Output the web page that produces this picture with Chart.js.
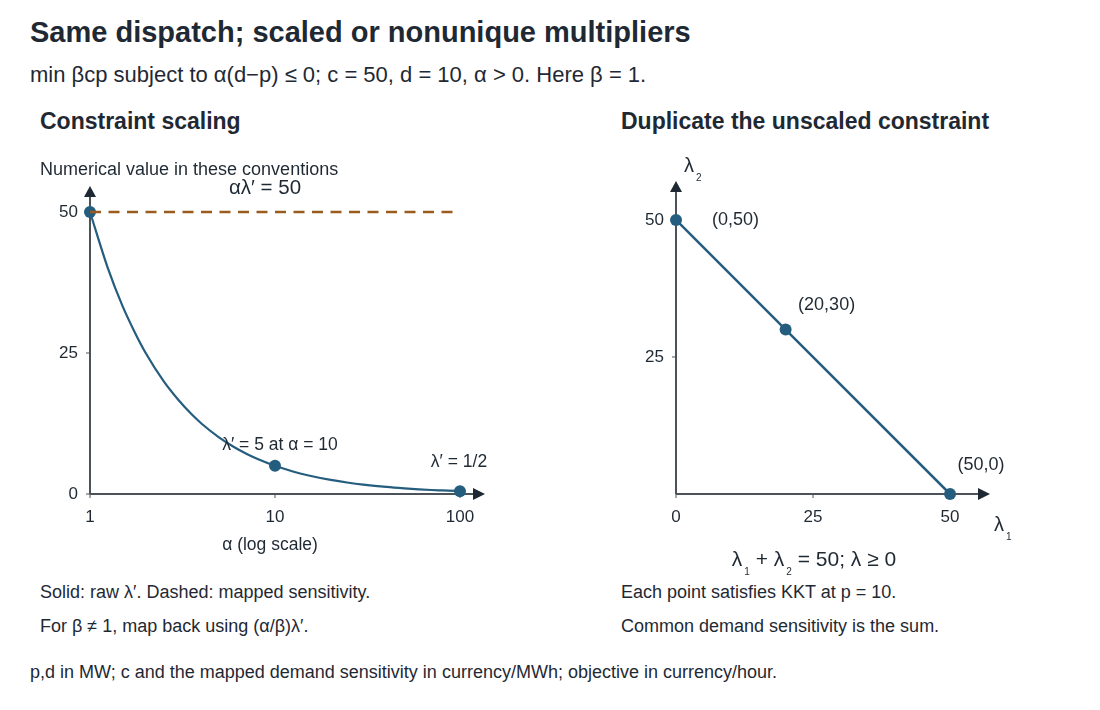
<!DOCTYPE html>
<html lang="en">
    <head>
        <meta charset="UTF-8" />
        <title>Same dispatch; scaled or nonunique multipliers</title>
        <script src="https://cdn.jsdelivr.net/npm/chart.js@4"></script>
        <style>
            body { margin: 0; background: #fff; font-family: "Liberation Sans", Arial, sans-serif; color: #1f2933; }
            #page { position: relative; width: 1100px; height: 710px; overflow: hidden; }
            .txt { position: absolute; white-space: nowrap; line-height: 1; }
            canvas { position: absolute; top: 0; }
        </style>
    </head>
    <body>
        <div id="page">
            <div class="txt" style="left:30px; top:18px; font-size:29px; font-weight:bold;">Same dispatch; scaled or nonunique multipliers</div>
            <div class="txt" style="left:30px; top:64px; font-size:22px;">min βcp subject to α(d−p) ≤ 0; c = 50, d = 10, α &gt; 0. Here β = 1.</div>
            <div class="txt" style="left:40px; top:109.5px; font-size:23px; font-weight:bold;">Constraint scaling</div>
            <div class="txt" style="left:621px; top:109.5px; font-size:23px; font-weight:bold;">Duplicate the unscaled constraint</div>
            <div class="txt" style="left:40px; top:583px; font-size:18px;">Solid: raw λ′. Dashed: mapped sensitivity.</div>
            <div class="txt" style="left:40px; top:617px; font-size:18px;">For β ≠ 1, map back using (α/β)λ′.</div>
            <div class="txt" style="left:621px; top:583px; font-size:18px;">Each point satisfies KKT at p = 10.</div>
            <div class="txt" style="left:621px; top:617px; font-size:18px;">Common demand sensitivity is the sum.</div>
            <div class="txt" style="left:30px; top:663px; font-size:18px;">p,d in MW; c and the mapped demand sensitivity in currency/MWh; objective in currency/hour.</div>
            <canvas id="leftChart" width="560" height="710" style="left:0;"></canvas>
            <canvas id="rightChart" width="540" height="710" style="left:560px;"></canvas>
        </div>

        <script>
            // left panel: raw multiplier lambda' = c/alpha
            const alphaValues = [1, 1.25, 1.5, 1.75, 2, 2.5, 3, 3.5, 4, 5, 6, 7, 8, 10, 12.5, 15, 20, 25, 30, 40, 50, 60, 70, 80, 100];
            const rawLambda = [50, 40, 33.3, 28.6, 25, 20, 16.7, 14.3, 12.5, 10, 8.33, 7.14, 6.25, 5, 4, 3.33, 2.5, 2, 1.67, 1.25, 1, 0.83, 0.71, 0.63, 0.5];
            const markedAlpha = [1, 10, 100];
            const markedLambda = [50, 5, 0.5];
            const mappedAlpha = [1, 100];
            const mappedValue = [50, 50];
            const leftXTicks = [1, 10, 100];
            const leftYTicks = [0, 25, 50];

            // right panel: two copies of the same constraint
            const lambda1 = [0, 20, 50];
            const lambda2 = [50, 30, 0];
            const pointLabels = ["(0,50)", "(20,30)", "(50,0)"];
            const rightXTicks = [0, 25, 50];
            const rightYTicks = [25, 50];

            const ink = "#1f2933";
            const axisGray = "#4b5259";
            const blue = "#255d7f";
            const brown = "#9a5b1f";
            const font = '"Liberation Sans", Arial, sans-serif';

            function xy(xs, ys) {
                return xs.map((x, i) => ({ x: x, y: ys[i] }));
            }

            function drawAxes(chart, xTicks, yTicks) {
                const ctx = chart.ctx;
                const a = chart.chartArea;
                const xs = chart.scales.x;
                const ys = chart.scales.y;
                ctx.save();
                ctx.strokeStyle = axisGray;
                ctx.lineWidth = 2;
                ctx.beginPath();
                ctx.moveTo(a.left, a.bottom);
                ctx.lineTo(a.right, a.bottom);
                ctx.moveTo(a.left, a.bottom);
                ctx.lineTo(a.left, a.top);
                ctx.stroke();
                // arrow heads
                ctx.fillStyle = ink;
                ctx.beginPath();
                ctx.moveTo(a.right + 12, a.bottom);
                ctx.lineTo(a.right, a.bottom - 6);
                ctx.lineTo(a.right, a.bottom + 6);
                ctx.closePath();
                ctx.fill();
                ctx.beginPath();
                ctx.moveTo(a.left, a.top - 11);
                ctx.lineTo(a.left - 6, a.top);
                ctx.lineTo(a.left + 6, a.top);
                ctx.closePath();
                ctx.fill();
                // ticks and labels
                ctx.lineWidth = 1;
                ctx.font = "17px " + font;
                ctx.fillStyle = ink;
                ctx.textBaseline = "middle";
                ctx.textAlign = "center";
                xTicks.forEach((v) => {
                    const px = xs.getPixelForValue(v);
                    ctx.beginPath();
                    ctx.moveTo(px, a.bottom);
                    ctx.lineTo(px, a.bottom + 4);
                    ctx.stroke();
                    ctx.fillText(String(v), px, a.bottom + 23);
                });
                ctx.textAlign = "right";
                yTicks.forEach((v) => {
                    const py = ys.getPixelForValue(v);
                    ctx.beginPath();
                    ctx.moveTo(a.left, py);
                    ctx.lineTo(a.left - 4, py);
                    ctx.stroke();
                    ctx.fillText(String(v), a.left - 12, py);
                });
                ctx.restore();
            }

            function subLambda(ctx, x, y, sub, size) {
                // lambda with a small subscript, x = left edge, y = baseline
                ctx.font = size + "px " + font;
                ctx.textAlign = "left";
                ctx.fillText("λ", x, y);
                const w = ctx.measureText("λ").width;
                ctx.font = Math.round(size * 0.5) + "px " + font;
                ctx.fillText(sub, x + w + 2, y + 9);
            }

            const leftPlugin = {
                id: "leftDecor",
                beforeDatasetsDraw(chart) {
                    drawAxes(chart, leftXTicks, leftYTicks);
                },
                afterDatasetsDraw(chart) {
                    const ctx = chart.ctx;
                    const xs = chart.scales.x;
                    const ys = chart.scales.y;
                    ctx.save();
                    ctx.fillStyle = ink;
                    ctx.textBaseline = "alphabetic";
                    ctx.font = "18px " + font;
                    ctx.textAlign = "left";
                    ctx.fillText("Numerical value in these conventions", 40, 175);
                    ctx.font = "20.5px " + font;
                    ctx.textAlign = "center";
                    ctx.fillText("αλ′ = 50", 265, 194);
                    ctx.font = "17.5px " + font;
                    ctx.fillText("α (log scale)", 270, 550);
                    ctx.fillText("λ′ = 5 at α = 10", xs.getPixelForValue(markedAlpha[1]) + 5, ys.getPixelForValue(markedLambda[1]) - 16);
                    ctx.fillText("λ′ = 1/2", xs.getPixelForValue(markedAlpha[2]) - 1, ys.getPixelForValue(markedLambda[2]) - 24);
                    ctx.restore();
                },
            };

            const rightPlugin = {
                id: "rightDecor",
                beforeDatasetsDraw(chart) {
                    drawAxes(chart, rightXTicks, rightYTicks);
                },
                afterDatasetsDraw(chart) {
                    const ctx = chart.ctx;
                    const xs = chart.scales.x;
                    const ys = chart.scales.y;
                    ctx.save();
                    ctx.fillStyle = ink;
                    ctx.textBaseline = "alphabetic";
                    ctx.font = "18px " + font;
                    const offsets = [[36, 5, "left"], [41, -20, "center"], [31, -24, "center"]];
                    pointLabels.forEach((t, i) => {
                        const o = offsets[i];
                        ctx.textAlign = o[2];
                        ctx.fillText(t, xs.getPixelForValue(lambda1[i]) + o[0], ys.getPixelForValue(lambda2[i]) + o[1]);
                    });
                    subLambda(ctx, 684 - 560, 172, "2", 20);
                    subLambda(ctx, 994 - 560, 531, "1", 20);
                    // constraint caption
                    const parts = [["λ", "1"], [" + ", ""], ["λ", "2"], [" = 50; λ ≥ 0", ""]];
                    const big = "21px " + font;
                    const small = "10px " + font;
                    let total = 0;
                    parts.forEach((p) => {
                        ctx.font = big;
                        total += ctx.measureText(p[0]).width;
                        if (p[1]) {
                            ctx.font = small;
                            total += ctx.measureText(p[1]).width + 2;
                        }
                    });
                    let x = 814 - 560 - total / 2;
                    parts.forEach((p) => {
                        ctx.textAlign = "left";
                        ctx.font = big;
                        ctx.fillText(p[0], x, 566);
                        x += ctx.measureText(p[0]).width;
                        if (p[1]) {
                            ctx.font = small;
                            ctx.fillText(p[1], x + 2, 575);
                            x += ctx.measureText(p[1]).width + 2;
                        }
                    });
                    ctx.restore();
                },
            };

            new Chart(document.getElementById("leftChart"), {
                type: "line",
                data: {
                    datasets: [
                        {
                            label: "mapped",
                            data: xy(mappedAlpha, mappedValue),
                            borderColor: brown,
                            borderWidth: 2.5,
                            borderDash: [11, 7.5],
                            pointRadius: 0,
                        },
                        {
                            label: "raw",
                            data: xy(alphaValues, rawLambda),
                            borderColor: blue,
                            borderWidth: 2.2,
                            pointRadius: 0,
                            cubicInterpolationMode: "monotone",
                        },
                        {
                            label: "marked",
                            data: xy(markedAlpha, markedLambda),
                            showLine: false,
                            pointRadius: 6,
                            pointBackgroundColor: blue,
                            pointBorderWidth: 0,
                        },
                    ],
                },
                options: {
                    responsive: false,
                    animation: false,
                    layout: { padding: { left: 90, top: 197, right: 87, bottom: 216 } },
                    plugins: { legend: { display: false }, tooltip: { enabled: false } },
                    elements: { line: { fill: false } },
                    datasets: { line: { clip: false } },
                    scales: {
                        x: { type: "logarithmic", min: 1, max: 117.6, display: false },
                        y: { type: "linear", min: 0, max: 52.66, display: false },
                    },
                },
                plugins: [leftPlugin],
            });

            new Chart(document.getElementById("rightChart"), {
                type: "line",
                data: {
                    datasets: [
                        {
                            label: "lambda",
                            data: xy(lambda1, lambda2),
                            borderColor: blue,
                            borderWidth: 2.5,
                            pointRadius: 6,
                            pointBackgroundColor: blue,
                            pointBorderWidth: 0,
                        },
                    ],
                },
                options: {
                    responsive: false,
                    animation: false,
                    layout: { padding: { left: 116, top: 192, right: 122, bottom: 216 } },
                    plugins: { legend: { display: false }, tooltip: { enabled: false } },
                    elements: { line: { fill: false } },
                    datasets: { line: { clip: false } },
                    scales: {
                        x: { type: "linear", min: 0, max: 55.1, display: false },
                        y: { type: "linear", min: 0, max: 55.1, display: false },
                    },
                },
                plugins: [rightPlugin],
            });
        </script>
    </body>
</html>
